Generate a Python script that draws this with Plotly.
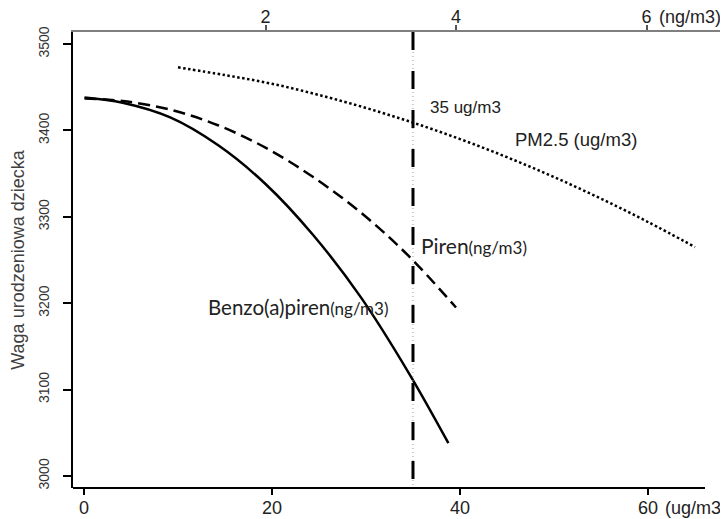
import plotly.graph_objects as go

# ---- data ----
# Benzo(a)piren, x in ng/m3 (top axis)
bap_x = [0.1, 0.5, 1.0, 1.5, 2.0, 2.5, 3.0, 3.5, 3.92]
bap_y = [3438, 3432, 3415, 3383, 3338, 3279, 3207, 3120, 3038]
# Piren, x in ng/m3 (top axis)
pir_x = [0.1, 0.5, 1.0, 1.5, 2.0, 2.5, 3.0, 3.5, 4.0]
pir_y = [3437, 3434, 3424, 3406, 3380, 3346, 3305, 3255, 3195]
# PM2.5, x in ug/m3 (bottom axis)
pm_x = [10, 15, 20, 25, 30, 35, 40, 45, 50, 55, 60, 65]
pm_y = [3473, 3464, 3454, 3441, 3426, 3409, 3390, 3369, 3346, 3321, 3294, 3265]

threshold_ug = 35

bottom_ticks = [0, 20, 40, 60]
bottom_ticktext = ["0", "20", "40", "60"]
top_ticks = [2, 4, 6]
top_ticktext = ["2", "4", "6"]
y_ticks = [3000, 3100, 3200, 3300, 3400, 3500]
y_ticktext = ["3000", "3100", "3200", "3300", "3400", "3500"]

y_title = "Waga urodzeniowa dziecka"

FONT = "Liberation Sans, Arial, sans-serif"
FONT2 = "Lato, Noto Sans, sans-serif"

fig = go.Figure()
fig.add_trace(go.Scatter(x=pm_x, y=pm_y, mode="lines", xaxis="x", yaxis="y",
                         line=dict(color="black", width=2.5, dash="2.5px,2.5px", shape="spline"),
                         showlegend=False, hoverinfo="skip"))
fig.add_trace(go.Scatter(x=pir_x, y=pir_y, mode="lines", xaxis="x2", yaxis="y",
                         line=dict(color="black", width=2.5, dash="12px,6px", shape="spline"),
                         showlegend=False, hoverinfo="skip"))
fig.add_trace(go.Scatter(x=bap_x, y=bap_y, mode="lines", xaxis="x2", yaxis="y",
                         line=dict(color="black", width=2.5, shape="spline"),
                         showlegend=False, hoverinfo="skip"))

shapes = [
    # bottom axis line (shorter than the plot frame)
    dict(type="line", xref="paper", yref="paper", x0=0, x1=0.9723, y0=0, y1=0,
         line=dict(color="black", width=2)),
    # threshold line: gray dotted + black long dash
    dict(type="line", xref="x", yref="paper", x0=threshold_ug, x1=threshold_ug, y0=1, y1=0,
         line=dict(color="#9a9a9a", width=1, dash="1px,3px")),
    dict(type="line", xref="x", yref="paper", x0=threshold_ug, x1=threshold_ug, y0=1, y1=0,
         line=dict(color="black", width=3, dash="18px,21px")),
]

annotations = [
    dict(text="35 ug/m3", x=36.6, y=3426, xref="x", yref="y", xanchor="left", yanchor="middle",
         showarrow=False, font=dict(family=FONT, size=17, color="#222")),
    dict(text="PM2.5 (ug/m3)", x=45.6, y=3389, xref="x", yref="y", xanchor="left", yanchor="middle",
         showarrow=False, font=dict(family=FONT, size=18.5, color="#222")),
    dict(text="Piren<span style='font-size:17px'>(ng/m3)</span>", x=35.6, y=3267, xref="x", yref="y",
         xanchor="left", yanchor="middle", showarrow=False,
         font=dict(family=FONT2, size=21, color="#222")),
    dict(text="Benzo(a)piren<span style='font-size:17px'>(ng/m3)</span>", x=13.0, y=3196, xref="x", yref="y",
         xanchor="left", yanchor="middle", showarrow=False,
         font=dict(family=FONT2, size=20.5, color="#222")),
    dict(text="(ug/m3)", x=61.6, y=-0.0439, xref="x", yref="paper", xanchor="left", yanchor="middle",
         showarrow=False, font=dict(family=FONT, size=18, color="#222")),
    dict(text="(ng/m3)", x=6.11, y=1.0329, xref="x2", yref="paper", xanchor="left", yanchor="middle",
         showarrow=False, font=dict(family=FONT, size=18, color="#222")),
]

# The page body adds an 8px offset; figure is sized so plot area lands at the reference position.
fig.update_layout(
    width=720, height=511,
    margin=dict(l=65, r=5, t=24, b=31, autoexpand=False),
    paper_bgcolor="white", plot_bgcolor="white",
    xaxis=dict(range=[-1.17, 67.98], tickmode="array", tickvals=bottom_ticks, ticktext=bottom_ticktext,
               ticks="outside", ticklen=6, tickwidth=2, tickcolor="black",
               showline=False, showgrid=False, zeroline=False, automargin=False,
               ticklabelstandoff=-3,
               tickfont=dict(family=FONT, size=18, color="#222")),
    xaxis2=dict(range=[-0.021, 6.803], overlaying="x", side="top", anchor="y",
                tickmode="array", tickvals=top_ticks, ticktext=top_ticktext,
                ticks="outside", ticklen=5, tickwidth=1.5, tickcolor="#555",
                showline=True, linecolor="#7f7f7f", linewidth=1.5,
                showgrid=False, zeroline=False, automargin=False,
                ticklabelstandoff=-5,
                tickfont=dict(family=FONT, size=18, color="#222")),
    yaxis=dict(range=[2986.1, 3513.9], tickmode="array", tickvals=y_ticks, ticktext=y_ticktext,
               tickangle=-90, ticks="outside", ticklen=8, tickwidth=1.5, tickcolor="black",
               showline=True, linecolor="black", linewidth=2,
               showgrid=False, zeroline=False, automargin=False,
               ticklabelstandoff=8,
               tickfont=dict(family=FONT, size=14, color="#333"),
               title=dict(text=y_title, standoff=8,
                          font=dict(family=FONT, size=18, color="#404040"))),
    shapes=shapes,
    annotations=annotations,
)

fig.write_html("out.html")
